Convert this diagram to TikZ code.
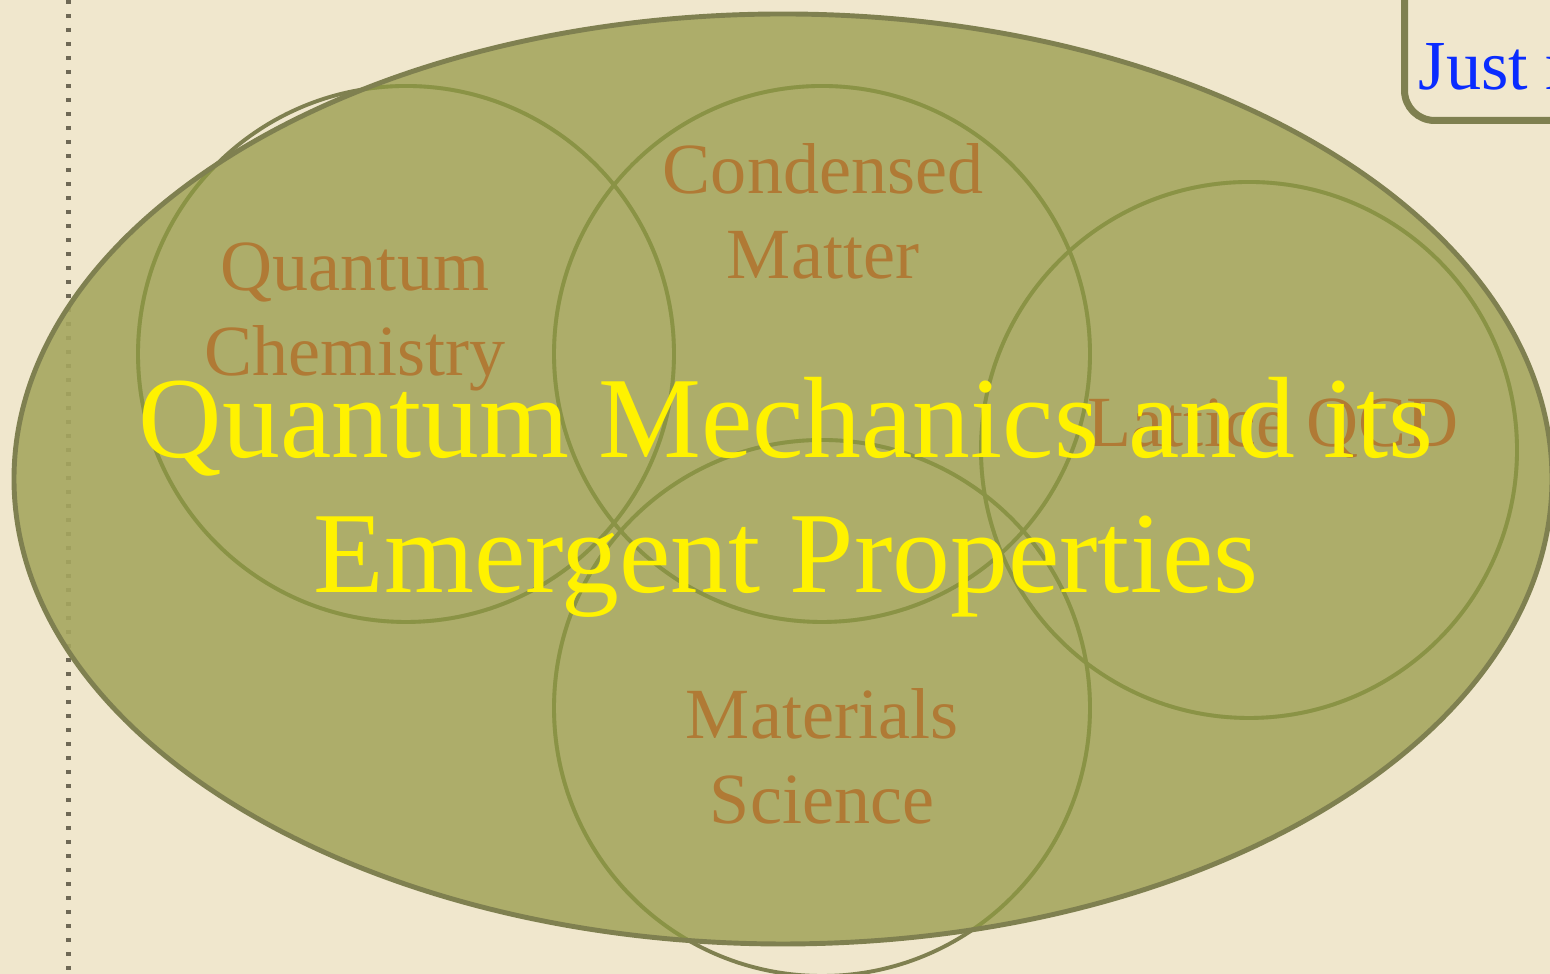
\documentclass[tikz,border=0pt]{standalone}
\usepackage{fontspec}
\setmainfont{Liberation Serif}
\usetikzlibrary{shapes.geometric}

\definecolor{paper}{HTML}{F0E7CD}
\definecolor{qmolive}{HTML}{A6A760}
\definecolor{olivedark}{HTML}{7F8050}
\definecolor{vennline}{HTML}{8A9345}
\definecolor{fieldbrown}{HTML}{B07A35}
\definecolor{linkblue}{HTML}{0A2CFF}
\definecolor{dotgray}{HTML}{6E6855}

\begin{document}
\begin{tikzpicture}[
  oval/.style={ellipse, minimum width=15.38cm, minimum height=9.30cm, inner sep=0pt,
    fill=qmolive, fill opacity=0.9},
  venn/.style={circle, minimum size=5.36cm, inner sep=0pt, line width=1.1pt},
  field/.style={font=\fontsize{20.5}{24.2}\selectfont, text=fieldbrown, align=center, inner sep=0pt},
  headline/.style={font=\fontsize{32.9}{38.4}\selectfont, text=yellow, align=center, inner sep=0pt},
  notebox/.style={draw=olivedark, line width=2pt, rounded corners=0.3cm, minimum width=3cm, minimum height=2cm},
  margin/.style={dotgray, line width=0.045cm, dash pattern=on 0.045cm off 0.095cm},
]

% ====== PAGE ======
\clip (0,0) rectangle (15.5,9.74);
\fill[paper] (0,0) rectangle (15.5,9.74);
\coordinate (margintop) at (0.685,9.74);
\coordinate (marginbot) at (0.685,0);
\draw[margin] (margintop) -- (marginbot);

% Note box, top right (cut by the page)
\node[notebox, anchor=south west] (notebox) at (14.01,8.50) {};
\node[font=\fontsize{20}{24}\selectfont, text=linkblue, anchor=base west, inner sep=0pt] (just) at (14.18,8.84) {Just r};

% ====== VENN CIRCLES (outside parts) ======
\node[venn, draw=olivedark] (qchem) at (4.06,6.20) {};
\node[venn, draw=olivedark] (cmat) at (8.22,6.20) {};
\node[venn, draw=olivedark] (lqcd) at (12.49,5.24) {};
\node[venn, draw=olivedark] (msci) at (8.22,2.66) {};

% Big oval
\node[oval] (qm) at (7.83,4.95) {};

% ====== VENN CIRCLES (inside the oval) ======
\begin{scope}
  \clip (7.83,4.95) ellipse (7.69cm and 4.65cm);
  \foreach \c in {qchem,cmat,lqcd,msci}
    \draw[vennline, line width=1.1pt] (\c.center) circle (2.68cm);
\end{scope}
\draw[olivedark, line width=1.4pt] (qm.center) ellipse (7.69cm and 4.65cm);

% Field labels
\node[field] (qchemlabel) at (3.55,6.57) {Quantum\\Chemistry};
\node[field] (cmatlabel) at (8.23,7.63) {Condensed\\Matter};
\node[field] (lqcdlabel) at (12.73,5.45) {Lattice QCD};
\node[field] (mscilabel) at (8.22,2.18) {Materials\\Science};

% Headline
\node[headline] (title) at (7.86,4.77) {Quantum Mechanics and its\\Emergent Properties};

\end{tikzpicture}
\end{document}
